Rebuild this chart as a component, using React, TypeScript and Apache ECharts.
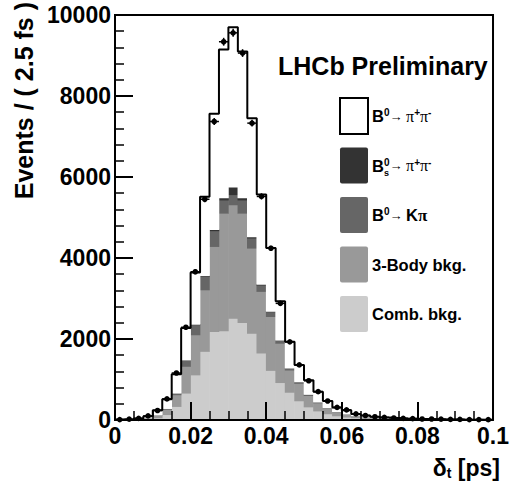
import React, { useEffect, useRef } from "react";
import * as echarts from "echarts";

// ---- data (events per 2.5 fs bin, 40 bins from 0 to 0.1 ps) ----
const BIN = 0.0025;
const combBkg = [3, 6, 10, 20, 50, 130, 330, 660, 1110, 1690, 2180, 2200, 2510, 2400, 2140, 1650, 1220, 920, 680, 470, 320, 220, 150, 100, 70, 50, 35, 25, 18, 13, 10, 8, 6, 5, 4, 3, 3, 2, 2, 1];
const threeBody = [2, 4, 8, 20, 60, 130, 290, 660, 990, 1520, 2100, 2900, 2800, 2700, 2100, 1520, 1330, 970, 550, 430, 280, 200, 140, 90, 70, 45, 35, 25, 20, 15, 12, 9, 8, 6, 5, 4, 3, 3, 2, 2];
const b0Kpi = [0, 1, 2, 5, 10, 20, 40, 160, 250, 330, 390, 330, 250, 330, 250, 160, 120, 80, 50, 40, 30, 20, 10, 10, 5, 5, 2, 2, 1, 1, 1, 0, 0, 0, 0, 0, 0, 0, 0, 0];
const bsPipi = [0, 0, 0, 0, 0, 0, 0, 0, 10, 20, 30, 50, 190, 50, 30, 20, 10, 0, 0, 0, 0, 0, 0, 0, 0, 0, 0, 0, 0, 0, 0, 0, 0, 0, 0, 0, 0, 0, 0, 0];
const b0Pipi = [5, 9, 20, 45, 120, 230, 470, 790, 1280, 1950, 2860, 3670, 3950, 3620, 2930, 2220, 1570, 960, 650, 420, 350, 260, 170, 110, 95, 50, 38, 28, 21, 21, 17, 15, 12, 9, 7, 7, 5, 4, 3, 3];
const observed = [10, 20, 40, 100, 235, 520, 1160, 2290, 3660, 5450, 7370, 9340, 9560, 9060, 7330, 5520, 4240, 2880, 1930, 1360, 970, 700, 470, 310, 250, 150, 110, 80, 65, 50, 40, 35, 25, 25, 20, 15, 15, 10, 10, 8];
const xTickLabels = ["0", "0.02", "0.04", "0.06", "0.08", "0.1"];
const yTickLabels = ["0", "2000", "4000", "6000", "8000", "10000"];

const FONT = "Liberation Sans, Arial, Helvetica, sans-serif";
const SERIF = "Liberation Serif, Times New Roman, serif";

const colors = { b0Pipi: "#ffffff", bs: "#333333", kpi: "#666666", three: "#999999", comb: "#cccccc" };

export default function App() {
  const ref = useRef<HTMLDivElement>(null);
  useEffect(() => {
    if (!ref.current) return;
    const chart = echarts.init(ref.current, null, { renderer: "svg" });

    const components: [string, number[], string][] = [
      ["Comb. bkg.", combBkg, colors.comb],
      ["3-Body bkg.", threeBody, colors.three],
      ["B0→Kπ", b0Kpi, colors.kpi],
      ["Bs0→π+π-", bsPipi, colors.bs],
      ["B0→π+π-", b0Pipi, colors.b0Pipi],
    ];
    const base = combBkg.map(() => 0);
    const histSeries = components.map(([name, vals, color]) => {
      const data = vals.map((v, i) => {
        const d = [i * BIN, (i + 1) * BIN, base[i], base[i] + v];
        base[i] += v;
        return d;
      });
      return {
        name,
        type: "custom",
        xAxisIndex: 0,
        yAxisIndex: 0,
        data,
        encode: { x: [0, 1], y: [2, 3] },
        z: 2,
        renderItem: (_p: any, api: any) => {
          const p0 = api.coord([api.value(0), api.value(2)]);
          const p1 = api.coord([api.value(1), api.value(3)]);
          const h = p0[1] - p1[1];
          if (h <= 0) return null;
          return {
            type: "rect",
            shape: { x: p0[0] - 0.3, y: p1[1] - 0.3, width: p1[0] - p0[0] + 0.6, height: h + 0.6 },
            style: { fill: color },
          };
        },
      };
    });
    const stackTop = base;
    const outline: number[][] = [];
    stackTop.forEach((v, i) => {
      outline.push([i * BIN, v]);
      outline.push([(i + 1) * BIN, v]);
    });
    const points = observed.map((v, i) => [(i + 0.5) * BIN, v, Math.sqrt(v)]);

    const legendItems = [
      { color: colors.b0Pipi, border: true, text: "{b|B}{sup|0}{ar|→ }{pi|π}{sup|+}{pi|π}{sup|-}" },
      { color: colors.bs, text: "{b|B}{sup|0}{ar|→ }{pi|π}{sup|+}{pi|π}{sup|-}", sub: "s" },
      { color: colors.kpi, text: "{b|B}{sup|0}{ar|→ }{b|K}{pib|π}" },
      { color: colors.three, text: "{b|3-Body bkg.}" },
      { color: colors.comb, text: "{b|Comb. bkg.}" },
    ];
    const rich = {
      b: { fontFamily: FONT, fontWeight: "bold", fontSize: 16.5, fill: "#000" },
      sup: { fontFamily: FONT, fontWeight: "bold", fontSize: 10, fill: "#000", verticalAlign: "top" },
      ar: { fontFamily: FONT, fontSize: 13, fill: "#000" },
      pi: { fontFamily: SERIF, fontSize: 16, fill: "#000" },
      pib: { fontFamily: SERIF, fontWeight: "bold", fontSize: 17, fill: "#000" },
    };
    const graphic: any[] = [];
    legendItems.forEach((it, k) => {
      const top = 98 + k * 49.5;
      graphic.push({
        type: "rect",
        shape: { x: 340, y: top, width: 28, height: 36, r: it.border ? 0 : 2 },
        style: { fill: it.color, stroke: it.border ? "#000" : null, lineWidth: it.border ? 2 : 0 },
        z: 10,
      });
      graphic.push({
        type: "text",
        x: 372,
        y: top + 18,
        style: { text: it.text, rich, align: "left", verticalAlign: "middle" },
        z: 10,
      });
      if (it.sub) {
        graphic.push({
          type: "text",
          x: 384,
          y: top + 25,
          style: { text: it.sub, fontFamily: FONT, fontWeight: "bold", fontSize: 9, fill: "#000", align: "left", verticalAlign: "middle" },
          z: 10,
        });
      }
    });
    graphic.push({
      type: "text",
      x: 278,
      y: 66,
      style: { text: "LHCb Preliminary", fontFamily: FONT, fontWeight: "bold", fontSize: 25, fill: "#000", align: "left", verticalAlign: "middle" },
      z: 10,
    });
    graphic.push({
      type: "text",
      x: 24,
      y: 2,
      rotation: Math.PI / 2,
      style: { text: "Events / ( 2.5 fs )", fontFamily: FONT, fontWeight: "bold", fontSize: 25, fill: "#000", align: "right", verticalAlign: "middle" },
      z: 10,
    });
    graphic.push({
      type: "text",
      x: 500,
      y: 468,
      style: {
        text: "{d|δ}{t|t}{d| [ps]}",
        align: "right",
        verticalAlign: "middle",
        rich: {
          d: { fontFamily: FONT, fontWeight: "bold", fontSize: 23, fill: "#000" },
          t: { fontFamily: FONT, fontWeight: "bold", fontSize: 14, fill: "#000", verticalAlign: "bottom" },
        },
      },
      z: 10,
    });

    chart.setOption({
      animation: false,
      backgroundColor: "#ffffff",
      grid: { left: 115, right: 13, top: 15, bottom: 62, show: true, borderColor: "#000", borderWidth: 2, backgroundColor: "transparent" },
      xAxis: [
        {
          type: "value",
          min: 0,
          max: 0.1,
          interval: 0.02,
          axisLine: { show: true, onZero: false, lineStyle: { color: "#000", width: 2 } },
          axisTick: { show: true, inside: true, length: 18, lineStyle: { color: "#000", width: 2 } },
          minorTick: { show: true, splitNumber: 4, length: 9, lineStyle: { color: "#000", width: 1.5 } },
          splitLine: { show: false },
          axisLabel: {
            show: true,
            margin: 4,
            color: "#000",
            fontFamily: FONT,
            fontWeight: "bold",
            fontSize: 23,
            formatter: (v: number) => xTickLabels[Math.round(v / 0.02)] ?? "",
          },
          z: 5,
        },
      ],
      yAxis: [
        {
          type: "value",
          min: 0,
          max: 10000,
          interval: 2000,
          axisLine: { show: true, lineStyle: { color: "#000", width: 2 } },
          axisTick: { show: true, inside: true, length: 18, lineStyle: { color: "#000", width: 2 } },
          minorTick: { show: true, splitNumber: 5, length: 9, lineStyle: { color: "#000", width: 1.5 } },
          splitLine: { show: false },
          axisLabel: {
            show: true,
            margin: 4,
            color: "#000",
            fontFamily: FONT,
            fontWeight: "bold",
            fontSize: 23,
            formatter: (v: number) => yTickLabels[Math.round(v / 2000)] ?? "",
          },
          z: 5,
        },
      ],
      graphic,
      series: [
        ...histSeries,
        {
          name: "stack outline",
          type: "line",
          xAxisIndex: 0,
          yAxisIndex: 0,
          data: outline,
          symbol: "none",
          lineStyle: { color: "#000", width: 2 },
          z: 4,
        },
        {
          name: "Data",
          type: "custom",
          xAxisIndex: 0,
          yAxisIndex: 0,
          data: points,
          encode: { x: 0, y: 1 },
          z: 6,
          renderItem: (_params: any, api: any) => {
            const x = api.value(0);
            const y = api.value(1);
            const e = api.value(2);
            const c = api.coord([x, y]);
            const l = api.coord([x - BIN / 2, y]);
            const r = api.coord([x + BIN / 2, y]);
            const t = api.coord([x, y + e]);
            const b = api.coord([x, Math.max(0, y - e)]);
            return {
              type: "group",
              children: [
                { type: "line", shape: { x1: l[0], y1: c[1], x2: r[0], y2: c[1] }, style: { stroke: "#000", lineWidth: 1.5 } },
                { type: "line", shape: { x1: c[0], y1: t[1], x2: c[0], y2: b[1] }, style: { stroke: "#000", lineWidth: 1.5 } },
                { type: "circle", shape: { cx: c[0], cy: c[1], r: 2.8 }, style: { fill: "#000" } },
              ],
            };
          },
        },
      ],
    });
    return () => chart.dispose();
  }, []);
  return <div ref={ref} style={{ position: "fixed", left: 0, top: 0, width: 512, height: 482, background: "#fff" }} />;
}
